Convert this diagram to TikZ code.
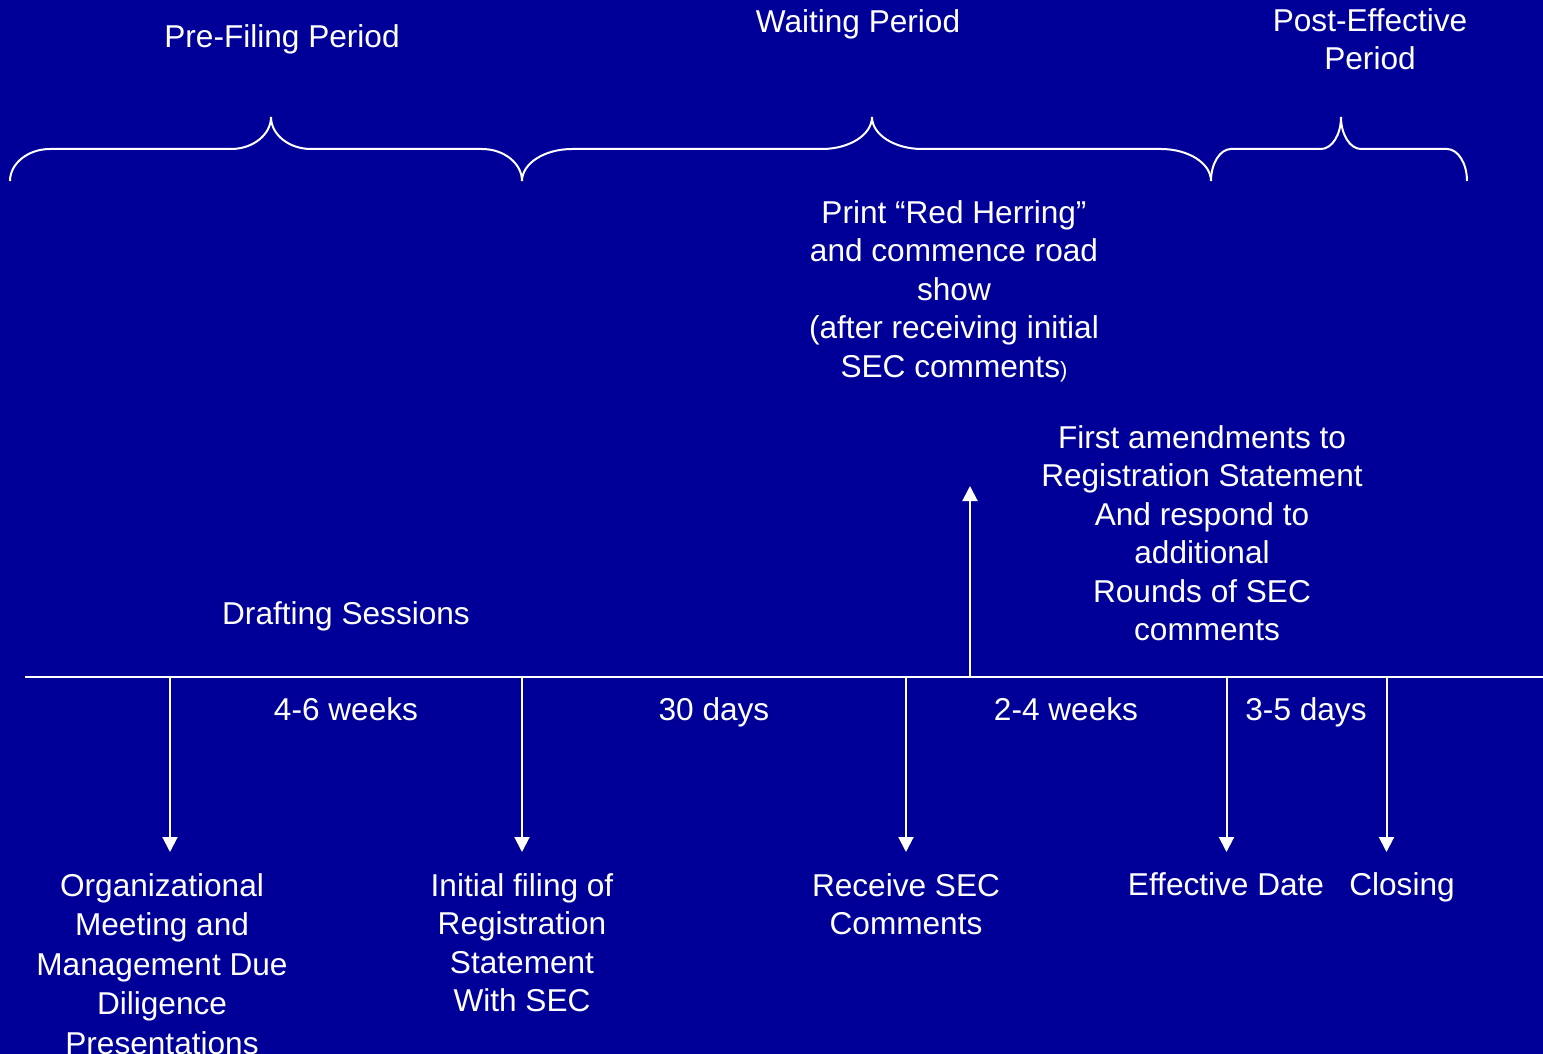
\documentclass[tikz,border=0pt]{standalone}
\usepackage{fontspec}
\setmainfont{Liberation Sans}
\usetikzlibrary{arrows.meta}
\definecolor{bgblue}{RGB}{0,0,153}
\newcommand\mlines[1]{\begin{tabular}[t]{@{}c@{}}#1\end{tabular}}

\begin{document}
\begin{tikzpicture}[x=1pt,y=-1pt,
  txt/.style={text=white, inner sep=0pt, anchor=base, font=\fontsize{31.6}{38.5}\selectfont},
  txtwide/.style={txt, font=\fontsize{31.6}{39.5}\selectfont},
  bracepath/.style={draw=white, line width=2pt},
  tline/.style={draw=white, line width=2pt},
  arr/.style={draw=white, line width=2pt, -{Triangle[width=15pt,length=15pt]}}]

% background and bounding box
\fill[bgblue] (0,0) rectangle (1543,1054);
\useasboundingbox (0,0) rectangle (1543,1054);

% period labels
\node[txt] (pre)  at (282,48) {Pre-Filing Period};
\node[txt] (wait) at (858,32.5) {Waiting Period};
\node[txt] (post) at (1370,31.5) {\mlines{Post-Effective\\Period}};

% braces
\draw[bracepath] (10,181) .. controls (10,163.4) and (28,149) .. (50,149) -- (231,149)
  .. controls (253,149) and (271,134.6) .. (271,117)
  .. controls (271,134.6) and (289,149) .. (311,149) -- (482,149)
  .. controls (504,149) and (522,163.4) .. (522,181);
\draw[bracepath] (522,181) .. controls (522,163.4) and (544.5,149) .. (572,149) -- (822,149)
  .. controls (849.5,149) and (872,134.6) .. (872,117)
  .. controls (872,134.6) and (894.5,149) .. (922,149) -- (1161,149)
  .. controls (1188.5,149) and (1211,163.4) .. (1211,181);
\draw[bracepath] (1211,181) .. controls (1211,163.4) and (1220,149) .. (1231,149) -- (1321,149)
  .. controls (1332,149) and (1341,134.6) .. (1341,117)
  .. controls (1341,134.6) and (1350,149) .. (1361,149) -- (1447,149)
  .. controls (1458,149) and (1467,163.4) .. (1467,181);

% upper texts
\node[txt] (herring) at (954,223.2) {\mlines{Print “Red Herring”\\and commence road\\show\\(after receiving initial\\SEC comments{\fontsize{22}{26}\selectfont)}}};
\node[txt] (amend) at (1202,448) {\mlines{First amendments to\\Registration Statement\\And respond to\\additional\\Rounds of SEC\\\hspace*{10pt}comments}};
\node[txt] (draft) at (346,624) {Drafting Sessions};

% timeline
\coordinate (tlL) at (25,677);
\coordinate (tlR) at (1543,677);
\draw[tline] (tlL) -- (tlR);

% durations
\node[txt] (d1) at (346,720) {4-6 weeks};
\node[txt] (d2) at (714,720) {30 days};
\node[txt] (d3) at (1066,720) {2-4 weeks};
\node[txt] (d4) at (1306,720) {3-5 days};

% arrow coordinates
\coordinate (a1) at (170,677);  \coordinate (b1) at (170,852);
\coordinate (a2) at (522,677);  \coordinate (b2) at (522,852);
\coordinate (a3) at (906,677);  \coordinate (b3) at (906,852);
\coordinate (a4) at (1226.5,677); \coordinate (b4) at (1226.5,852);
\coordinate (a5) at (1386.5,677); \coordinate (b5) at (1386.5,852);
\coordinate (u1) at (970,677);  \coordinate (u2) at (970,486);

\draw[arr] (a1) -- (b1);
\draw[arr] (a2) -- (b2);
\draw[arr] (a3) -- (b3);
\draw[arr] (a4) -- (b4);
\draw[arr] (a5) -- (b5);
\draw[arr] (u1) -- (u2);

% event labels
\node[txtwide] (org) at (162,896) {\mlines{Organizational\\Meeting and\\Management Due\\Diligence\\Presentations}};
\node[txt] (filing) at (522,896) {\mlines{Initial filing of\\Registration\\Statement\\With SEC}};
\node[txt] (receive) at (906,896) {\mlines{Receive SEC\\Comments}};
\node[txt] (eff) at (1226,895.5) {Effective Date};
\node[txt] (close) at (1402,895.5) {Closing};
\end{tikzpicture}
\end{document}
